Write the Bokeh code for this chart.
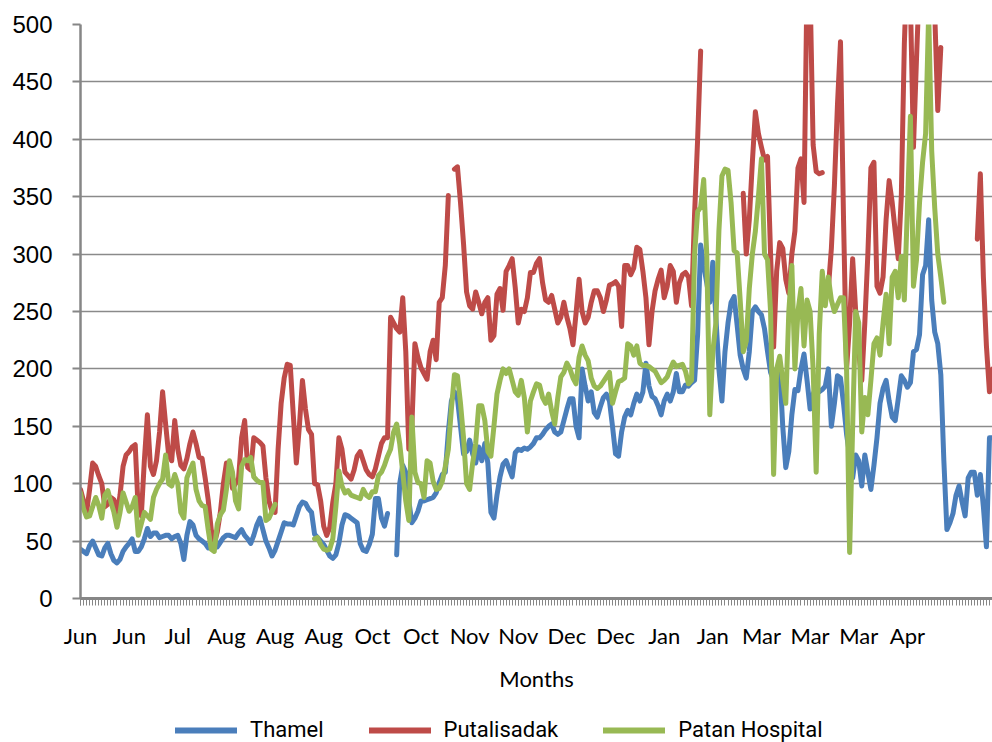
import numpy as np
from bokeh.plotting import figure
from bokeh.layouts import column
from bokeh.models import Range1d, FixedTicker, Legend, LegendItem
from bokeh.embed import file_html
from bokeh.resources import INLINE

nan = float("nan")

month_labels = ["Jun", "Jun", "Jul", "Aug", "Aug", "Aug", "Oct", "Oct", "Nov",
                "Nov", "Dec", "Dec", "Jan", "Jan", "Mar", "Mar", "Mar", "Apr"]
days_per_label = 16
y_ticks = [0, 50, 100, 150, 200, 250, 300, 350, 400, 450, 500]

thamel = [
    43, 41, 39, 46, 50, 44, 38, 37, 44, 48,
    39, 33, 31, 34, 41, 45, 48, 52, 41, 41,
    45, 52, 61, 54, 57, 57, 53, 54, 55, 55,
    52, 54, 55, 48, 34, 55, 67, 64, 55, 52,
    50, 48, 44, 49, 46, 45, 49, 53, 55, 55,
    54, 53, 57, 60, 55, 52, 48, 55, 64, 70,
    60, 50, 44, 37, 42, 50, 58, 66, 65, 65,
    64, 72, 80, 84, 83, 78, 75, 56, 53, 50,
    47, 42, 37, 35, 38, 48, 64, 73, 72, 70,
    68, 66, 48, 42, 41, 47, 56, 87, 87, 70,
    63, 74, nan, nan, 38, 100, 116, 110, 85, 66,
    70, 76, 85, 85, 86, 87, 88, 92, 101, 108,
    110, 145, 172, 180, 174, 150, 126, 128, 138, 126,
    118, 132, 120, 135, 118, 75, 70, 90, 106, 117,
    120, 113, 106, 127, 130, 129, 131, 130, 132, 135,
    140, 140, 143, 147, 150, 152, 145, 143, 145, 155,
    165, 174, 174, 150, 140, 200, 185, 172, 180, 162,
    158, 167, 175, 178, 172, 150, 126, 124, 145, 158,
    164, 160, 170, 178, 172, 180, 205, 185, 176, 174,
    168, 160, 172, 178, 172, 180, 196, 180, 180, 186,
    185, 188, 190, 230, 308, 290, 275, 258, 293, 245,
    200, 172, 215, 240, 258, 263, 238, 212, 200, 192,
    215, 250, 254, 250, 247, 235, 215, 197, 190, 200,
    202, 150, 114, 128, 160, 182, 181, 200, 213, 190,
    165, 178, 185, 180, 182, 185, 200, 150, 170, 194,
    192, 170, 143, 125, 105, 125, 120, 98, 125, 110,
    95, 116, 140, 170, 183, 190, 172, 158, 155, 174,
    194, 190, 184, 188, 215, 217, 230, 282, 290, 330,
    260, 232, 222, 195, 120, 60, 66, 74, 90, 98,
    84, 72, 105, 110, 110, 90, 108, 80, 45, 140, 140,
]

putalisadak = [
    95, 85, 75, 95, 118, 115, 107, 100, 80, 82,
    88, 86, 73, 90, 115, 125, 128, 132, 134, 76,
    72, 120, 160, 115, 108, 120, 145, 180, 152, 125,
    120, 155, 130, 116, 113, 122, 135, 145, 135, 123,
    122, 105, 86, 60, 48, 58, 75, 100, 118, 118,
    96, 100, 105, 140, 155, 114, 112, 140, 138, 136,
    133, 105, 85, 76, 75, 130, 170, 192, 204, 203,
    160, 118, 150, 190, 165, 147, 143, 100, 99, 85,
    63, 55, 62, 84, 100, 140, 130, 110, 107, 104,
    112, 124, 128, 120, 112, 108, 106, 113, 124, 135,
    140, 140, 245, 240, 235, 232, 262, 215, 130, 150,
    222, 210, 201, 196, 191, 215, 225, 208, 258, 262,
    290, 351, nan, 374, 376, 345, 309, 267, 255, 252,
    267, 258, 248, 258, 262, 225, 229, 265, 270, 251,
    285, 290, 296, 271, 240, 252, 250, 262, 284, 284,
    292, 296, 275, 260, 258, 264, 252, 240, 245, 258,
    245, 235, 221, 248, 278, 250, 240, 245, 258, 268,
    268, 262, 250, 260, 273, 274, 276, 272, 237, 290,
    290, 282, 288, 306, 304, 285, 262, 221, 250, 268,
    278, 286, 262, 272, 290, 285, 258, 275, 282, 284,
    280, 255, 335, 400, 477, nan, nan, nan, nan, nan,
    nan, nan, nan, nan, nan, nan, nan, nan, 353, 300,
    330, 380, 424, 405, 393, 382, 385, 300, 219, 285,
    310, 305, 278, 266, 300, 320, 375, 383, 345, 540,
    530, 395, 372, 370, 371, nan, 270, 305, 360, 430,
    485, 330, 200, 240, 296, 250, 215, 190, 240, 300,
    375, 380, 272, 266, 280, 330, 364, 345, 320, 296,
    350, 483, 560, 520, 393, 470, 540, 560, 560, 550,
    540, 510, 425, 480, nan, nan, nan, nan, nan, nan,
    nan, nan, nan, nan, nan, 313, 370, 280, 220, 180, 200,
]

patan = [
    92, 78, 71, 72, 80, 88, 81, 70, 90, 94,
    84, 75, 62, 75, 92, 84, 76, 80, 88, 55,
    65, 75, 72, 69, 88, 95, 100, 104, 125, 100,
    98, 108, 100, 75, 70, 105, 112, 118, 95, 85,
    81, 80, 60, 43, 41, 65, 73, 77, 95, 120,
    110, 85, 78, 115, 121, 120, 123, 106, 103, 101,
    101, 68, 70, 76, 82, nan, nan, nan, nan, nan,
    nan, nan, nan, nan, nan, nan, nan, 52, 53, 47,
    43, 42, 43, 52, 80, 111, 98, 92, 94, 90,
    89, 88, 87, 95, 90, 88, 93, 93, 107, 110,
    116, 124, 130, 145, 152, 135, 110, 85, 68, 158,
    110, 101, 100, 88, 120, 118, 102, 95, 96, 102,
    115, 130, 165, 195, 194, 170, 140, 100, 95, 118,
    135, 168, 168, 155, 128, 124, 150, 178, 190, 200,
    196, 200, 190, 180, 177, 190, 175, 145, 172, 180,
    187, 186, 175, 170, 178, 163, 152, 175, 193, 197,
    205, 200, 192, 187, 210, 220, 212, 207, 192, 185,
    183, 185, 189, 193, 197, 170, 180, 189, 190, 192,
    222, 220, 212, 220, 205, 203, 203, 202, 200, 198,
    193, 188, 190, 193, 200, 206, 202, 203, 204, 198,
    187, 190, 300, 337, 341, 365, 300, 160, 215, 240,
    320, 368, 374, 373, 345, 303, 301, 260, 215, 224,
    270, 300, 320, 350, 383, 300, 295, 250, 108, 200,
    211, 190, 170, 250, 290, 200, 250, 270, 220, 260,
    250, 200, 110, 230, 285, 255, 280, 260, 250, 256,
    262, 262, 200, 40, 150, 250, 240, 145, 175, 160,
    190, 222, 227, 212, 240, 265, 222, 280, 285, 262,
    298, 260, 340, 420, 272, 295, 345, 380, 405, 510,
    390, 340, 300, 280, 258, nan, nan, nan, nan, nan,
    nan, nan, nan, nan, nan, nan, nan, nan, nan, nan, nan,
]

series = [("Thamel", thamel, "#4A7EBB"),
          ("Putalisadak", putalisadak, "#BE4B48"),
          ("Patan Hospital", patan, "#98B954")]

n_days = max(len(s) for _, s, _ in series)
GRAY = "#868686"
LW = 5

p = figure(width=992, height=700, output_backend="svg", toolbar_location=None,
           x_range=Range1d(0, n_days - 1), y_range=Range1d(0, 500),
           min_border_left=80, min_border_right=0, min_border_top=24,
           min_border_bottom=102)
p.outline_line_color = None
p.background_fill_color = "white"
p.border_fill_color = "white"

for name, vals, col in series:
    y = np.array(vals, dtype=float)
    x = np.arange(len(y))
    p.line(x, y, line_color=col, line_width=LW,
           line_join="round", line_cap="round")

# axes
label_pos = [i * days_per_label for i in range(len(month_labels))]
xa = p.xaxis[0]
xa.ticker = FixedTicker(ticks=label_pos, minor_ticks=list(range(n_days)))
xa.major_label_overrides = {pos: lab for pos, lab in zip(label_pos, month_labels)}
xa.axis_line_color = GRAY
xa.axis_line_width = 3
xa.major_tick_line_color = GRAY
xa.minor_tick_line_color = GRAY
xa.major_tick_in = 0
xa.major_tick_out = 7
xa.minor_tick_in = 0
xa.minor_tick_out = 7
xa.major_tick_line_width = 1
xa.minor_tick_line_width = 1
xa.major_label_text_font = "Lato"
xa.major_label_text_font_size = "22px"
xa.major_label_text_color = "black"
xa.major_label_standoff = 16
xa.axis_label = "Months"
xa.axis_label_text_font = "Lato"
xa.axis_label_text_font_size = "22px"
xa.axis_label_text_font_style = "normal"
xa.axis_label_text_color = "black"
xa.axis_label_standoff = 13

ya = p.yaxis[0]
ya.ticker = FixedTicker(ticks=y_ticks, minor_ticks=[])
ya.axis_line_color = GRAY
ya.axis_line_width = 2.5
ya.major_tick_line_color = GRAY
ya.major_tick_line_width = 2
ya.major_tick_in = 0
ya.major_tick_out = 8
ya.minor_tick_out = 0
ya.major_label_text_font = "Liberation Sans"
ya.major_label_text_font_size = "24px"
ya.major_label_text_color = "black"
ya.major_label_standoff = 20

p.xgrid.grid_line_color = None
p.ygrid.ticker = FixedTicker(ticks=y_ticks)
p.ygrid.grid_line_color = "#8a8a8a"
p.ygrid.grid_line_width = 1.5

# legend strip below the chart
leg = figure(width=992, height=42, output_backend="svg", toolbar_location=None,
             x_axis_type=None, y_axis_type=None,
             x_range=Range1d(0, 1), y_range=Range1d(0, 1),
             min_border_left=0, min_border_right=0, min_border_top=0,
             min_border_bottom=0)
leg.outline_line_color = None
leg.xgrid.grid_line_color = None
leg.ygrid.grid_line_color = None
items = []
for name, vals, col in series:
    r = leg.line([nan], [nan], line_color=col, line_width=6,
                 line_join="round", line_cap="round")
    items.append(LegendItem(label=name, renderers=[r]))
legend = Legend(items=items, orientation="horizontal", location=(95, 0),
                glyph_width=62, glyph_height=20, label_standoff=13, spacing=45,
                padding=0, margin=0, border_line_color=None,
                background_fill_alpha=0, label_text_font="Roboto",
                label_text_font_size="22px", label_text_color="black")
leg.add_layout(legend)

open("out.html", "w").write(file_html(column(p, leg, spacing=0), INLINE))
